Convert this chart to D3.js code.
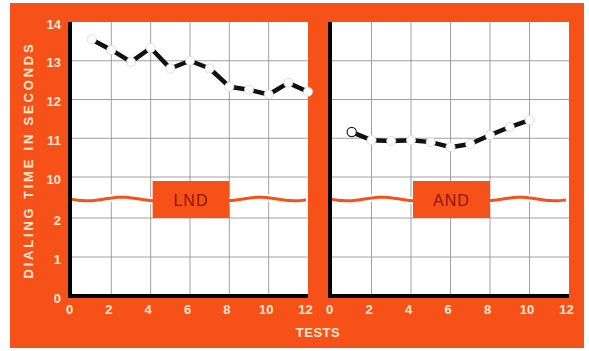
<!DOCTYPE html>
<html>
<head>
<meta charset="utf-8">
<script src="https://cdn.jsdelivr.net/npm/d3@7"></script>
<style>
html,body{margin:0;padding:0;background:#fff;}
svg{display:block;}
</style>
</head>
<body>
<svg id="chart" width="589" height="351"></svg>
<script>
// ---- data ----
const tests = [1,2,3,4,5,6,7,8,9,10,11,12];
const lndValues = [13.55,13.28,12.97,13.33,12.8,13.0,12.8,12.33,12.25,12.13,12.43,12.2];
const andTests = [1,2,3,4,5,6,7,8,9,10];
const andValues = [11.16,10.95,10.93,10.95,10.9,10.77,10.85,11.08,11.29,11.47];
const yTickValues = [0,1,2,10,11,12,13,14];
const xTickValues = [0,2,4,6,8,10,12];
const panelLabels = ["LND","AND"];
const yTitle = "DIALING TIME IN SECONDS";
const xTitle = "TESTS";

const ORANGE = "#f7511a";
const CREAM = "#ffe8cf";
const svg = d3.select("#chart");

// background frame
svg.append("rect").attr("x",10).attr("y",3).attr("width",574).attr("height",345).attr("fill",ORANGE);

// scales (broken y axis: 0-2 and 10-14)
const y = d3.scaleLinear().domain([0,2,10,14]).range([296,218,177,22]);
const xL = d3.scaleLinear().domain([0,12]).range([72,308]);
const xR = d3.scaleLinear().domain([0,12]).range([332,569]);
const breakY = 199;

const panels = [
  {x:xL, data:tests.map((t,i)=>[t,lndValues[i]]), label:panelLabels[0]},
  {x:xR, data:andTests.map((t,i)=>[t,andValues[i]]), label:panelLabels[1]}
];

panels.forEach((p,pi)=>{
  const x = p.x;
  const x0 = x.range()[0]-2, x1 = x.range()[1];
  const g = svg.append("g");
  // white plot area
  g.append("rect").attr("x",x0).attr("y",y(14)).attr("width",x1-x0).attr("height",y(0)-y(14)).attr("fill","#fff");
  // grid
  g.selectAll(".hg").data([1,2,10,11,12,13]).join("line")
    .attr("x1",x0).attr("x2",x1).attr("y1",d=>y(d)).attr("y2",d=>y(d))
    .attr("stroke","#8a8a8a").attr("stroke-width",0.8);
  g.selectAll(".vg").data([2,4,6,8,10]).join("line")
    .attr("x1",d=>x(d)).attr("x2",d=>x(d)).attr("y1",y(14)).attr("y2",y(0))
    .attr("stroke","#8a8a8a").attr("stroke-width",0.8);
  // wavy break line
  const wx = d3.range(x0, x1+1, 4);
  const wave = d3.line().x(d=>d).y(d=>breakY + 1.8*Math.sin((d-x0)/11)).curve(d3.curveBasis);
  g.append("path").attr("d",wave(wx)).attr("fill","none").attr("stroke","#fff").attr("stroke-width",7);
  g.append("path").attr("d",wave(wx)).attr("fill","none").attr("stroke",ORANGE).attr("stroke-width",3);
  // label box
  const bx0 = x(4.1), bx1 = x(8);
  g.append("rect").attr("x",bx0).attr("y",181).attr("width",bx1-bx0).attr("height",37).attr("fill",ORANGE);
  g.append("text").attr("x",(bx0+bx1)/2).attr("y",206).attr("text-anchor","middle")
    .attr("font-family","Liberation Sans, Arial, sans-serif").attr("font-size",16)
    .attr("fill","#8e1604").attr("letter-spacing",1).text(p.label);
  // axes lines
  g.append("line").attr("x1",x0).attr("x2",x0).attr("y1",y(14)).attr("y2",y(0)+2).attr("stroke","#000").attr("stroke-width",4);
  g.append("line").attr("x1",x0-2).attr("x2",x1).attr("y1",y(0)).attr("y2",y(0)).attr("stroke","#000").attr("stroke-width",4);
  // data line
  const line = d3.line().x(d=>x(d[0])).y(d=>y(d[1]));
  g.append("path").datum(p.data).attr("d",line).attr("fill","none").attr("stroke","#111")
    .attr("stroke-width",4.5).attr("stroke-linejoin","round");
  g.selectAll(".pt").data(p.data).join("circle")
    .attr("cx",d=>x(d[0])).attr("cy",d=>y(d[1])).attr("r",4.6)
    .attr("fill","#fff").attr("stroke",(d,i)=>(pi===1&&i===0)?"#222":"#d0d0d0").attr("stroke-width",(d,i)=>(pi===1&&i===0)?1.2:0.7);
  // x axis labels
  const xa = svg.append("g").attr("transform",`translate(-3,${y(0)+6})`)
    .call(d3.axisBottom(x).tickValues(xTickValues).tickSize(0).tickFormat(d3.format("d")));
  xa.select(".domain").remove();
  xa.selectAll("text").attr("fill",CREAM).attr("font-family","Liberation Sans, Arial, sans-serif")
    .attr("font-size",13).attr("font-weight","bold");
});

// y axis labels
const ya = svg.append("g").attr("transform",`translate(64,2)`)
  .call(d3.axisLeft(y).tickValues(yTickValues).tickSize(0).tickFormat(d3.format("d")));
ya.select(".domain").remove();
ya.selectAll("text").attr("fill",CREAM).attr("font-family","Liberation Sans, Arial, sans-serif")
  .attr("font-size",13).attr("font-weight","bold");

// titles
svg.append("text").attr("transform","translate(33,160) rotate(-90)").attr("text-anchor","middle")
  .attr("font-family","Liberation Sans, Arial, sans-serif").attr("font-size",13).attr("font-weight","bold")
  .attr("letter-spacing",2.8).attr("fill",CREAM).text(yTitle);
svg.append("text").attr("x",318).attr("y",337).attr("text-anchor","middle")
  .attr("font-family","Liberation Sans, Arial, sans-serif").attr("font-size",13).attr("font-weight","bold")
  .attr("letter-spacing",0.5).attr("fill",CREAM).text(xTitle);
</script>
</body>
</html>
